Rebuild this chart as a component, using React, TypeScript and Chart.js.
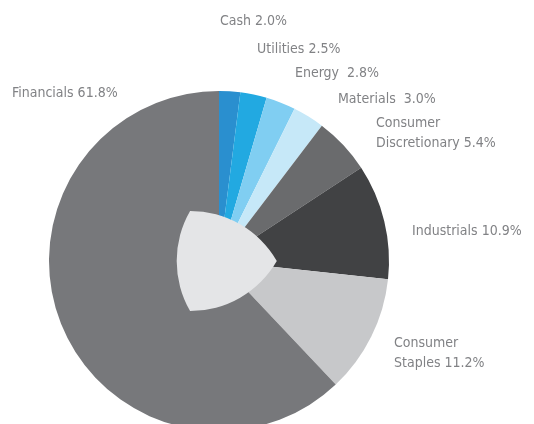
import React, { useEffect, useRef } from "react";
import { Chart, registerables } from "chart.js";

Chart.register(...registerables);

const sectors = [
  "Cash",
  "Utilities",
  "Energy",
  "Materials",
  "Consumer Discretionary",
  "Industrials",
  "Consumer Staples",
  "Financials",
];
const weights = [2.0, 2.5, 2.8, 3.0, 5.4, 10.9, 11.2, 61.8];
const colors = [
  "#2a8fcf",
  "#22a9e1",
  "#80cef2",
  "#c6e8f8",
  "#6a6b6d",
  "#414244",
  "#c7c8ca",
  "#77787b",
];
// label text lines (text only)
const labelLines: string[][] = [
  ["Cash 2.0%"],
  ["Utilities 2.5%"],
  ["Energy  2.8%"],
  ["Materials  3.0%"],
  ["Consumer", "Discretionary 5.4%"],
  ["Industrials 10.9%"],
  ["Consumer", "Staples 11.2%"],
  ["Financials 61.8%"],
];
// layout: label anchor offsets relative to pie centre (px)
const labelOffsets: [number, number][] = [
  [1, -240],
  [38, -212],
  [76, -188],
  [119, -162],
  [157, -138],
  [193, -30],
  [175, 82],
  [-207, -168],
];

const decorPlugin = {
  id: "decor",
  afterDatasetsDraw(chart: any) {
    const meta = chart.getDatasetMeta(0);
    const arc = meta.data[0];
    if (!arc) return;
    const cx = arc.x;
    const cy = arc.y;
    const R = arc.outerRadius;
    const ctx = chart.ctx;
    ctx.save();
    // central Reuleaux triangle
    const r = R * 0.34;
    const s = r * Math.sqrt(3);
    const thetas = [0, 120, 240].map((d) => (d * Math.PI) / 180);
    const verts = thetas.map((t) => [cx + r * Math.cos(t), cy + r * Math.sin(t)]);
    ctx.beginPath();
    for (let i = 0; i < 3; i++) {
      const t = thetas[i];
      ctx.arc(verts[i][0], verts[i][1], s, t + (150 * Math.PI) / 180, t + (210 * Math.PI) / 180);
    }
    ctx.closePath();
    ctx.fillStyle = "#e4e5e7";
    ctx.fill();
    // labels
    ctx.fillStyle = "#818285";
    ctx.font = '14px "Liberation Sans Narrow", "DejaVu Sans Condensed", sans-serif';
    ctx.textBaseline = "middle";
    ctx.textAlign = "left";
    labelLines.forEach((lines, i) => {
      const [dx, dy] = labelOffsets[i];
      lines.forEach((line, j) => {
        ctx.fillText(line, cx + dx, cy + dy + j * 20.5);
      });
    });
    ctx.restore();
  },
};

export default function App() {
  const ref = useRef<HTMLCanvasElement>(null);
  useEffect(() => {
    if (!ref.current) return;
    const chart = new Chart(ref.current, {
      type: "pie",
      data: {
        labels: sectors,
        datasets: [
          {
            data: weights,
            backgroundColor: colors,
            borderWidth: 0,
          },
        ],
      },
      options: {
        responsive: false,
        animation: false,
        events: [],
        layout: { padding: { left: 49, right: 145, top: 91, bottom: 19 } },
        plugins: {
          legend: { display: false },
          tooltip: { enabled: false },
        },
      },
      plugins: [decorPlugin],
    });
    return () => chart.destroy();
  }, []);
  return (
    <div
      style={{
        position: "fixed",
        left: 0,
        top: 0,
        width: 534,
        height: 424,
        overflow: "hidden",
        background: "#ffffff",
      }}
    >
      <canvas ref={ref} width={534} height={450} style={{ display: "block" }} />
    </div>
  );
}
